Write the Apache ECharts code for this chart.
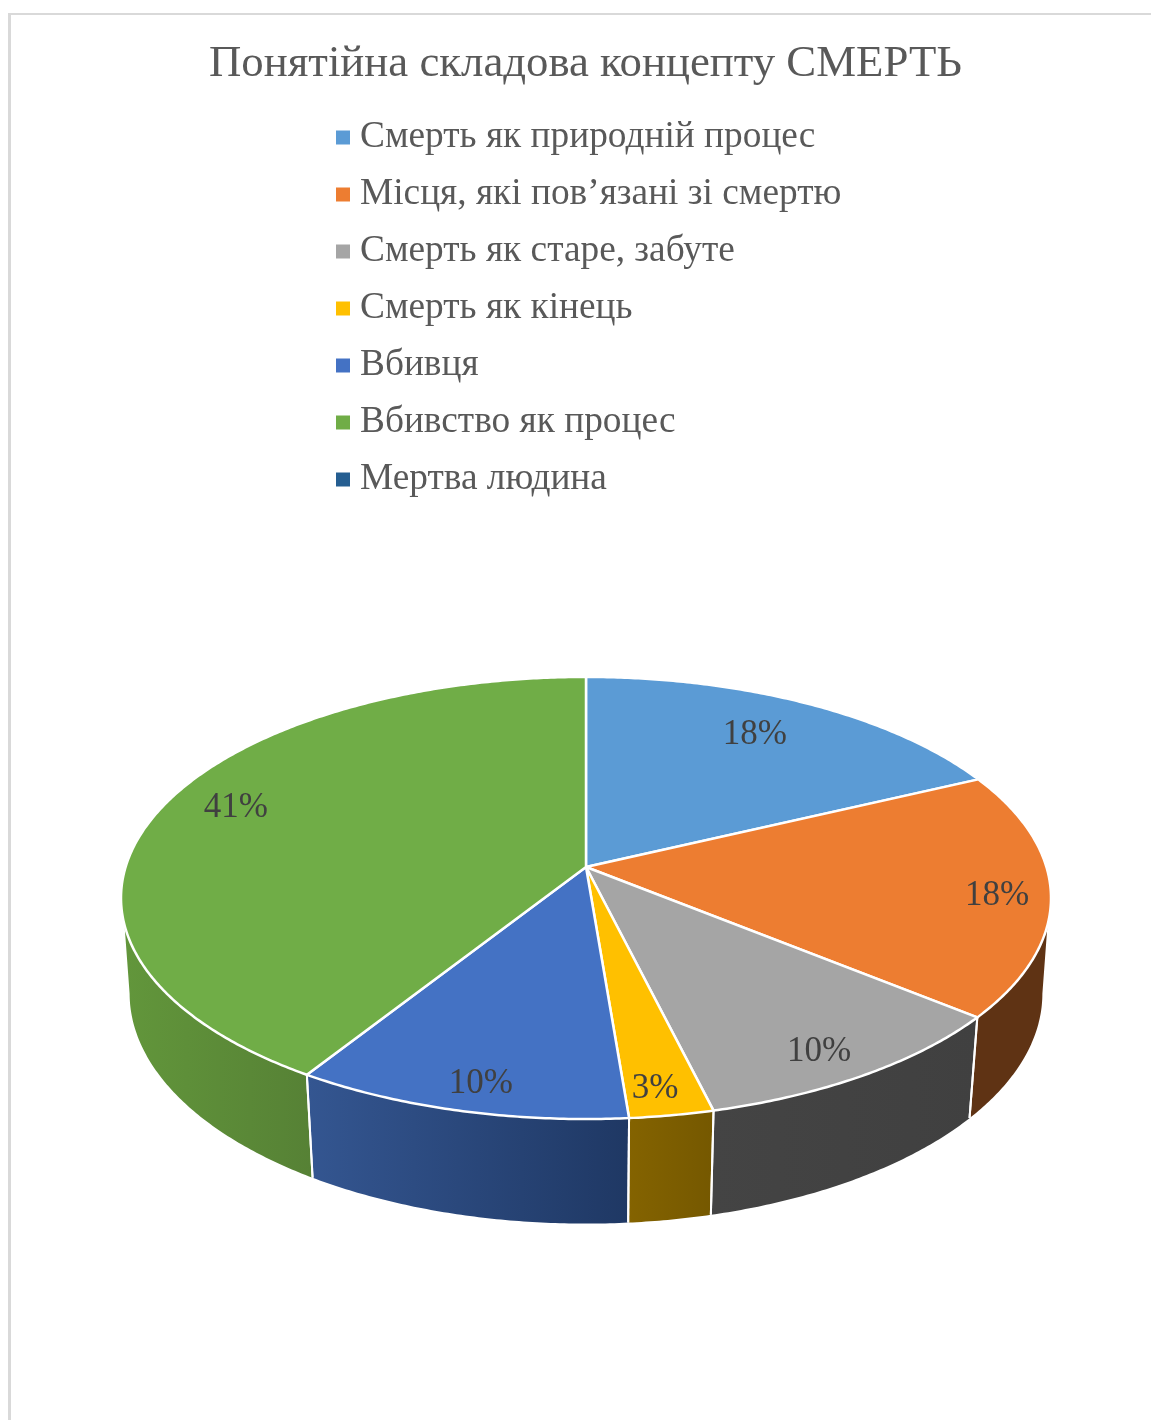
<!DOCTYPE html>
<html>
<head>
<meta charset="utf-8">
<title>Понятійна складова концепту СМЕРТЬ</title>
<script src="https://cdn.jsdelivr.net/npm/echarts@6/dist/echarts.min.js"></script>
<style>
  html, body { margin: 0; padding: 0; background: #fff; }
  #chart { width: 1151px; height: 1420px; }
</style>
</head>
<body>
<div id="chart"></div>
<script>
// Chart content: mention counts per category; the percentages are derived from them
const chartTitle = 'Понятійна складова концепту СМЕРТЬ';
const categories = [
  'Смерть як природній процес',
  'Місця, які пов’язані зі смертю',
  'Смерть як старе, забуте',
  'Смерть як кінець',
  'Вбивця',
  'Вбивство як процес',
  'Мертва людина'
];
const counts = [7, 7, 4, 1, 4, 16, 0];

// Slice colours: top face, then the wall gradient from its left to its right end
const topColors = ['#5B9BD5', '#ED7D31', '#A5A5A5', '#FFC000', '#4472C4', '#70AD47', '#255E91'];
const wallLeft = ['#2f5c85', '#5f3314', '#444444', '#846300', '#345691', '#62963B', '#173a5a'];
const wallRight = ['#2f5c85', '#5f3314', '#404040', '#755800', '#1f3864', '#568135', '#173a5a'];

// Label placement: distance along the radius (1 = rim) and turn from the slice's mid-angle
const labelReach = [0.792, 0.886, 0.877, 0.895, 0.89, 0.846, 0.8];
const labelTurn = [-1.8, 0.7, 1.2, 0.8, -0.8, 4.4, 0];
const labelDrop = 2.5;

// Perspective model of the disc: apex on screen, projection terms, thickness terms
const apex = { x: 586, y: 867 };
const proj = { a: 460.4, b: 216.7, k: 0.1402, depthY: 96.5, depthW: 0.0185 };
// Angular limits of the outer wall (degrees clockwise from 12 o'clock)
const wallRim = { top: [105, 255], bottom: [98, 262] };

const serifFont = '"Liberation Serif", "Times New Roman", serif';
const total = counts.reduce((s, v) => s + v, 0);
const startCount = counts.map((_, i) => counts.slice(0, i).reduce((s, v) => s + v, 0));

// Project a point of the disc: r in 0..1, deg clockwise from top, level 0 = top face, 1 = bottom
function project(r, deg, level) {
  const t = deg * Math.PI / 180;
  const X = r * Math.sin(t);
  const Y = -r * Math.cos(t);
  const w = 1 - proj.k * Y + level * proj.depthW;
  return [
    apex.x + proj.a * X / w,
    apex.y + (proj.b * Y + level * proj.depthY) / w
  ];
}

function arc(from, to, level) {
  const pts = [];
  const n = Math.max(2, Math.ceil(Math.abs(to - from) * 2));
  for (let i = 0; i <= n; i++) pts.push(project(1, from + (to - from) * i / n, level));
  return pts;
}

function renderSlice(params, api) {
  const i = params.seriesIndex;
  const value = api.value(0);
  if (!value) return null;
  const a0 = startCount[i] / total * 360;
  const a1 = a0 + value / total * 360;
  const children = [];

  // Outer wall, only the part of the rim turned to the viewer
  const t0 = Math.max(a0, wallRim.top[0]);
  const t1 = Math.min(a1, wallRim.top[1]);
  if (t1 > t0) {
    const b0 = a0 <= wallRim.top[0] ? wallRim.bottom[0] : a0;
    const b1 = a1 >= wallRim.top[1] ? wallRim.bottom[1] : a1;
    const wallFill = new echarts.graphic.LinearGradient(0, 0, 1, 0, [
      { offset: 0, color: wallLeft[i] },
      { offset: 1, color: wallRight[i] }
    ]);
    children.push({
      type: 'polygon',
      z2: 1,
      shape: { points: arc(t0, t1, 0).concat(arc(b1, b0, 1)) },
      style: { fill: wallFill, stroke: null }
    });
    // White seams where the wall meets its neighbours
    [[a0, a0 > wallRim.top[0]], [a1, a1 < wallRim.top[1]]].forEach(([deg, show]) => {
      if (!show) return;
      const p = project(1, deg, 0);
      const q = project(1, deg, 1);
      children.push({
        type: 'line',
        z2: 2,
        shape: { x1: p[0], y1: p[1], x2: q[0], y2: q[1] },
        style: { stroke: '#ffffff', lineWidth: 2 }
      });
    });
  }

  // Top face
  children.push({
    type: 'polygon',
    z2: 3,
    shape: { points: [project(0, 0, 0)].concat(arc(a0, a1, 0)) },
    style: { fill: topColors[i], stroke: '#ffffff', lineWidth: 2.5, lineJoin: 'round' }
  });

  // Percentage label
  const mid = project(labelReach[i], (a0 + a1) / 2 + labelTurn[i], 0);
  children.push({
    type: 'text',
    z2: 4,
    style: {
      text: Math.round(value / total * 100) + '%',
      x: mid[0],
      y: mid[1] + labelDrop,
      align: 'center',
      verticalAlign: 'middle',
      font: '35px ' + serifFont,
      fill: '#404040'
    }
  });
  return { type: 'group', children };
}

const chart = echarts.init(document.getElementById('chart'), null, { renderer: 'canvas' });
chart.setOption({
  animation: false,
  backgroundColor: '#ffffff',
  color: topColors,
  title: {
    text: chartTitle,
    left: 580.5,
    top: 37,
    textAlign: 'center',
    textStyle: { fontFamily: serifFont, fontSize: 44.8, fontWeight: 'normal', color: '#595959' }
  },
  legend: {
    orient: 'vertical',
    left: 336,
    top: 119,
    padding: 0,
    itemWidth: 14,
    itemHeight: 14,
    itemGap: 20,
    icon: 'rect',
    selectedMode: false,
    data: categories,
    textStyle: {
      fontFamily: serifFont,
      fontSize: 37.33,
      color: '#595959',
      padding: [0, 0, 0, 5]
    }
  },
  graphic: [
    { type: 'rect', silent: true, shape: { x: 8, y: 13, width: 1143, height: 2 }, style: { fill: '#d9d9d9' } },
    { type: 'rect', silent: true, shape: { x: 8, y: 13, width: 3, height: 1407 }, style: { fill: '#d9d9d9' } }
  ],
  series: categories.map((name, i) => ({
    type: 'custom',
    name,
    coordinateSystem: 'none',
    silent: true,
    renderItem: renderSlice,
    data: [[counts[i]]]
  }))
});
</script>
</body>
</html>
